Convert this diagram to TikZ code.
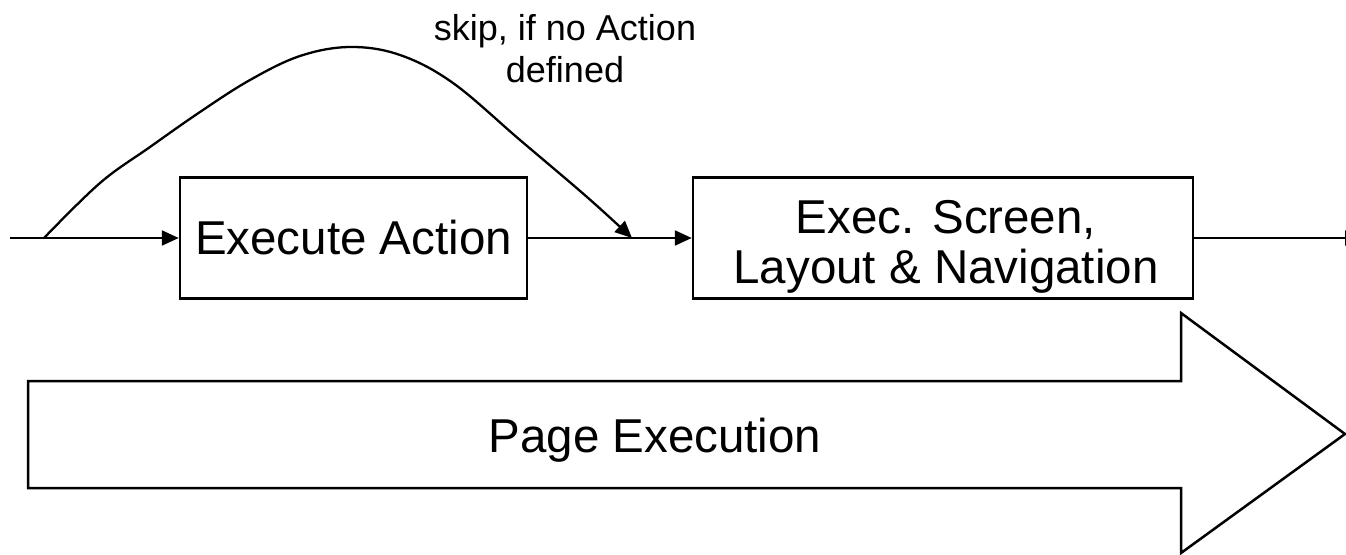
\documentclass[tikz,border=0pt]{standalone}
\usepackage{fontspec}
\setmainfont{Liberation Sans}
\usetikzlibrary{arrows.meta}
\tikzset{
  boxstyle/.style={draw=black, line width=2.5pt, fill=white, inner sep=0pt},
  flow/.style={line width=2.3pt, -{Triangle[length=17pt,width=15pt]}},
  bigfont/.style={font=\fontsize{47.5}{50}\selectfont},
  smallfont/.style={font=\fontsize{36}{42}\selectfont},
}
\begin{document}
\begin{tikzpicture}[x=1pt,y=-1pt]
\useasboundingbox (0,0) rectangle (1346,554);
% big arrow
\draw[line width=2.5pt, line join=miter] (28,381) -- (1181,381) -- (1181,313) -- (1345,434) -- (1181,553) -- (1181,488) -- (28,488) -- cycle;
\node[bigfont, anchor=base] (pe) at (655,452) {Page Execution};
% boxes
\node[boxstyle, bigfont, minimum width=347pt, minimum height=121pt] (b1) at (353.5,238) {Execute Action};
\node[boxstyle, minimum width=500pt, minimum height=121pt] (b2) at (943,238) {};
\node[bigfont, align=center, anchor=base] (b2t) at (946,283) {Exec. Screen,\\Layout \& Navigation};
% connectors
\coordinate (start) at (10,238);
\coordinate (fork) at (44,238);
\coordinate (join) at (632,238);
\coordinate (fin) at (1362,238);
\draw[line width=2.3pt] (start) -- (fork);
\draw[flow] (fork) -- (b1.west);
\draw[flow] (b1.east) -- (b2.west);
\draw[flow] (b2.east) -- (fin);
\draw[flow] plot[smooth, tension=0.6] coordinates {(44,238) (100,183) (150,147) (200,112) (250,80) (300,56) (350,47) (400,55) (453,83) (520,140) (587,197) (632,238)};
% label
\node[smallfont, align=center, anchor=base] (lbl) at (565,82) {skip, if no Action\\defined};
\end{tikzpicture}
\end{document}
